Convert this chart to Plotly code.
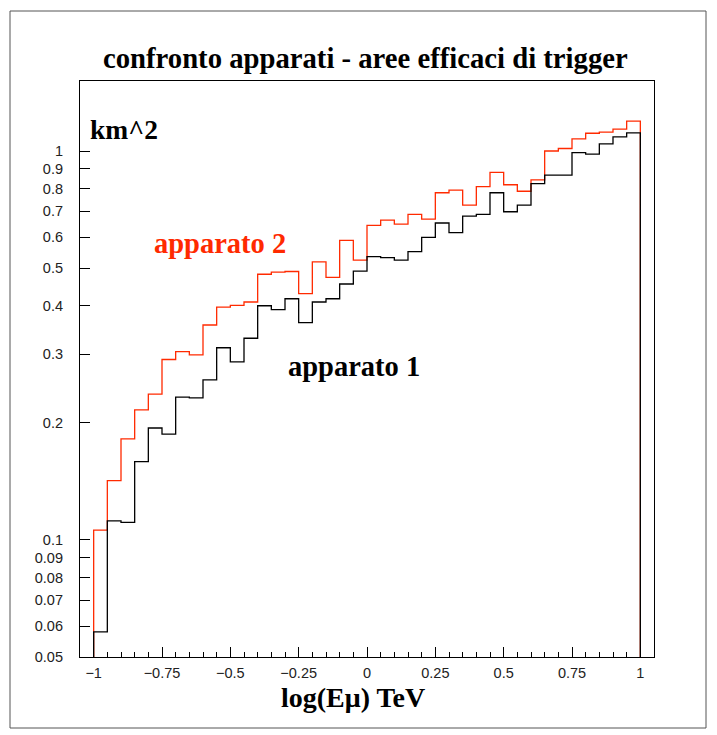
import numpy as np
import plotly.graph_objects as go

# log10(E_mu / TeV) bins: 40 bins from -1 to 1
bin_edges = np.round(np.linspace(-1.0, 1.0, 41), 3)

# effective trigger area (km^2) per bin
apparato_1 = [0.058, 0.112, 0.111, 0.159, 0.194, 0.187, 0.233, 0.232, 0.258, 0.312,
              0.287, 0.330, 0.400, 0.391, 0.417, 0.362, 0.409, 0.417, 0.455, 0.491,
              0.535, 0.532, 0.524, 0.551, 0.600, 0.653, 0.617, 0.680, 0.687, 0.781,
              0.698, 0.726, 0.824, 0.867, 0.867, 0.991, 0.982, 1.043, 1.087, 1.113]
apparato_2 = [0.106, 0.142, 0.182, 0.216, 0.237, 0.291, 0.305, 0.299, 0.357, 0.397,
              0.401, 0.409, 0.482, 0.488, 0.490, 0.430, 0.519, 0.473, 0.589, 0.524,
              0.644, 0.664, 0.649, 0.687, 0.668, 0.781, 0.793, 0.726, 0.810, 0.881,
              0.819, 0.788, 0.843, 1.000, 1.015, 1.075, 1.111, 1.118, 1.138, 1.194]

x_tick_vals = [-1, -0.75, -0.5, -0.25, 0, 0.25, 0.5, 0.75, 1]
x_tick_text = ["\u22121", "\u22120.75", "\u22120.5", "\u22120.25", "0", "0.25", "0.5", "0.75", "1"]
y_tick_vals = [0.05, 0.06, 0.07, 0.08, 0.09, 0.1, 0.2, 0.3, 0.4, 0.5, 0.6, 0.7, 0.8, 0.9, 1]
y_tick_text = ["0.05", "0.06", "0.07", "0.08", "0.09", "0.1", "0.2", "0.3", "0.4", "0.5",
               "0.6", "0.7", "0.8", "0.9", "1"]

FLOOR = 0.001  # below frame: histogram edges drop to the axis
RED = "#ff2a00"

def step_xy(values):
    xs = [bin_edges[0]] + list(bin_edges[:-1]) + [bin_edges[-1]]
    ys = [FLOOR] + list(values) + [FLOOR]
    return xs, ys

fig = go.Figure()
for vals, col in [(apparato_2, RED), (apparato_1, "black")]:
    xs, ys = step_xy(vals)
    fig.add_trace(go.Scatter(x=xs, y=ys, mode="lines", line=dict(color=col, width=1.3, shape="hv"),
                             hoverinfo="skip", showlegend=False))

W, H = 717, 735
L, R, T, B = 80, 63, 81, 78
pw, ph = W - L - R, H - T - B

def px(x):
    return (x - L) / pw

def py(y):
    return (H - B - y) / ph

serif = "Liberation Serif"
tickfont = dict(family="Liberation Sans", size=14.5, color="#222")
fig.update_layout(
    width=W, height=H,
    margin=dict(l=L, r=R, t=T, b=B),
    paper_bgcolor="white", plot_bgcolor="white",
    showlegend=False,
    xaxis=dict(range=[-1.05, 1.05], showgrid=False, zeroline=False,
               showline=True, linecolor="black", linewidth=1.2, mirror=True,
               ticks="inside", ticklen=10, tickwidth=1, tickcolor="black",
               tickvals=x_tick_vals, ticktext=x_tick_text,
               tickfont=tickfont, ticklabelstandoff=2,
               minor=dict(tick0=0, dtick=0.05, ticks="inside", ticklen=5, tickcolor="black", showgrid=False)),
    yaxis=dict(type="log", range=[np.log10(0.05), 0.18], showgrid=False, zeroline=False,
               showline=True, linecolor="black", linewidth=1.2, mirror=True,
               ticks="inside", ticklen=10, tickwidth=1, tickcolor="black",
               tickvals=y_tick_vals, ticktext=y_tick_text,
               tickfont=tickfont, ticklabelstandoff=13),
)

# outer frame
fig.add_shape(type="rect", xref="paper", yref="paper",
              x0=px(10), x1=px(706), y0=py(728), y1=py(11),
              line=dict(color="#555", width=1), layer="below")

fig.add_annotation(text="<b>confronto apparati - aree efficaci di trigger</b>",
                   xref="paper", yref="paper", x=px(365), y=py(58), showarrow=False,
                   xanchor="center", yanchor="middle",
                   font=dict(family=serif, size=28.7, color="black"))
fig.add_annotation(text="<b>km^2</b>", xref="paper", yref="paper", x=px(88), y=py(129),
                   showarrow=False, xanchor="left", yanchor="middle",
                   font=dict(family=serif, size=27.5, color="black"))
fig.add_annotation(text="<b>apparato 2</b>", xref="paper", yref="paper", x=px(152), y=py(243),
                   showarrow=False, xanchor="left", yanchor="middle",
                   font=dict(family=serif, size=28.5, color=RED))
fig.add_annotation(text="<b>apparato 1</b>", xref="paper", yref="paper", x=px(286), y=py(366),
                   showarrow=False, xanchor="left", yanchor="middle",
                   font=dict(family=serif, size=28.5, color="black"))
fig.add_annotation(text="<b>log(E\u03bc) TeV</b>", xref="paper", yref="paper", x=px(353), y=py(697),
                   showarrow=False, xanchor="center", yanchor="middle",
                   font=dict(family=serif, size=28, color="black"))

fig.write_html("out.html", config={"displayModeBar": False},
               post_script="document.body.style.margin='0';document.body.style.overflow='hidden';")
